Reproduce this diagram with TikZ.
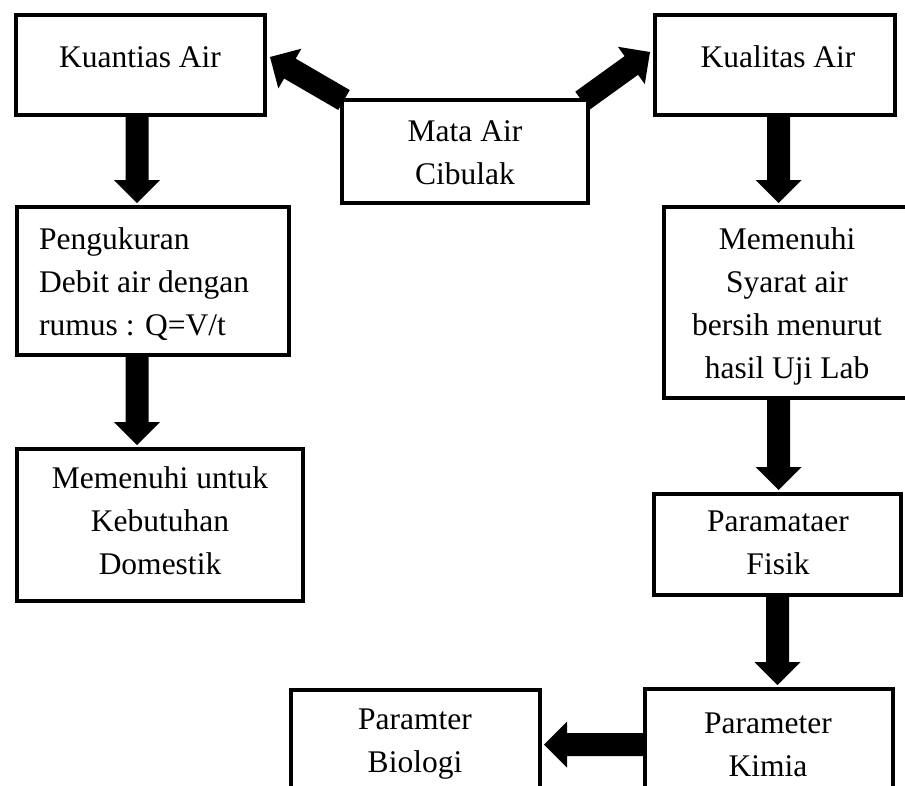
\documentclass[tikz,border=0pt]{standalone}
\usepackage{fontspec}
\setmainfont{Liberation Serif}
\usetikzlibrary{calc}
\pgfdeclarelayer{bg}
\pgfsetlayers{bg,main}
\tikzset{
  box/.style={draw, line width=4pt, fill=white, inner sep=0pt, rectangle},
  lbl/.style={inner sep=0pt, align=center, font=\fontsize{31.5}{43}\selectfont},
  lbll/.style={inner sep=0pt, align=left, font=\fontsize{31.5}{43}\selectfont},
}
\newcommand\blockarrow[2]{%
  \coordinate (bah) at ($(#2)!23pt!(#1)$);
  \fill ($(#1)!11.5pt!90:(#2)$) -- ($(bah)!11.5pt!-90:(#1)$) -- ($(bah)!23pt!-90:(#1)$) -- (#2)
     -- ($(bah)!23pt!90:(#1)$) -- ($(bah)!11.5pt!90:(#1)$) -- ($(#1)!11.5pt!-90:(#2)$) -- cycle;}
\begin{document}
\begin{tikzpicture}[x=1pt,y=-1pt]
\useasboundingbox (0,0) rectangle (905,785);
\clip (0,0) rectangle (905,785);
% boxes
\node[box, minimum width=249pt, minimum height=100pt] (kuan) at (140.5,65) {};
\node[box, minimum width=246pt, minimum height=103pt] (mata) at (465,151.5) {};
\node[box, minimum width=240pt, minimum height=100pt] (qual) at (775,65) {};
\node[box, minimum width=272pt, minimum height=148pt] (peng) at (153,281) {};
\node[box, minimum width=286pt, minimum height=152pt] (dom) at (160,525) {};
\node[box, minimum width=246pt, minimum height=191pt] (syarat) at (787,302.5) {};
\node[box, minimum width=247pt, minimum height=101pt] (fisik) at (777.5,544.5) {};
\node[box, minimum width=248pt, minimum height=111pt] (kimia) at (769,744.5) {};
\node[box, minimum width=249pt, minimum height=110pt] (bio) at (415.5,745) {};
% texts
\node[lbl] (kuanT) at (140,57) {Kuantias Air};
\node[lbl] (mataT) at (465,153) {Mata Air\\Cibulak};
\node[lbl] (qualT) at (778,57) {Kualitas Air};
\node[lbll, anchor=west] (pengT) at (39,284.5) {Pengukuran\\Debit air dengan\\rumus : Q=V/t};
\node[lbl] (domT) at (160,521) {Memenuhi untuk\\Kebutuhan\\Domestik};
\node[lbl] (syaratT) at (787,306) {Memenuhi\\Syarat air\\bersih menurut\\hasil Uji Lab};
\node[lbl] (fisikT) at (778,543) {Paramataer\\Fisik};
\node[lbl] (kimiaT) at (768,745) {Parameter\\Kimia};
\node[lbl] (bioT) at (415,744) {Paramter\\Biologi};
% arrow end points
\coordinate (a1s) at ([xshift=-3.5pt]kuan.south);
\coordinate (a1e) at ([yshift=2pt]a1s |- peng.north);
\coordinate (a2s) at (a1s |- peng.south);
\coordinate (a2e) at ([yshift=2pt]a1s |- dom.north);
\coordinate (a3s) at ([shift={(4pt,-2pt)}]mata.north west);
\coordinate (a3e) at ([shift={(3pt,8pt)}]kuan.east);
\coordinate (a4s) at ([shift={(-8pt,-3pt)}]mata.north east);
\coordinate (a4e) at ([shift={(-3pt,13pt)}]qual.west);
\coordinate (a5s) at ([xshift=3.5pt]qual.south);
\coordinate (a5e) at ([yshift=2pt]a5s |- syarat.north);
\coordinate (a6s) at (a5s |- syarat.south);
\coordinate (a6e) at ([yshift=2pt]a5s |- fisik.north);
\coordinate (a7s) at (fisik.south);
\coordinate (a7e) at ([yshift=2pt]fisik.south |- kimia.north);
\coordinate (a8s) at (kimia.west);
\coordinate (a8e) at ([xshift=2pt]kimia.west -| bio.east);
\begin{pgfonlayer}{bg}
\blockarrow{a1s}{a1e}
\blockarrow{a2s}{a2e}
\blockarrow{a3s}{a3e}
\blockarrow{a4s}{a4e}
\blockarrow{a5s}{a5e}
\blockarrow{a6s}{a6e}
\blockarrow{a7s}{a7e}
\blockarrow{a8s}{a8e}
\end{pgfonlayer}
\end{tikzpicture}
\end{document}
